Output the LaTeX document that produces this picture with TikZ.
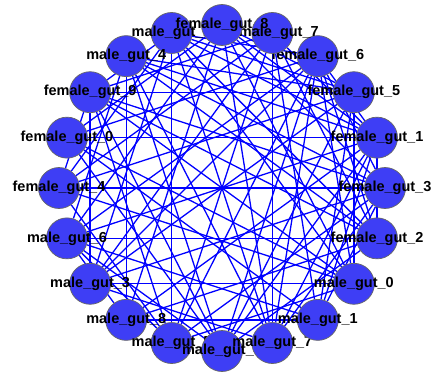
\documentclass[tikz,border=0pt]{standalone}
\usepackage{fontspec}
\setmainfont{Liberation Sans}
\usetikzlibrary{backgrounds}
\definecolor{nodeblue}{RGB}{62,62,245}
\begin{document}
\begin{tikzpicture}[x=1pt,y=1pt,
    gnode/.style={circle,fill=nodeblue,draw=gray!80!black,line width=0.7pt,minimum size=41pt,inner sep=0pt},
    glabel/.style={font=\fontsize{14.5}{16}\selectfont\bfseries,text=black,inner sep=0pt},
    gedge/.style={draw=blue,line width=1.3pt}]
    \useasboundingbox (-222,-187) rectangle (209,188);
    \foreach \k/\lab in {
        6/male\_gut\_2, 7/male\_gut\_4, 8/female\_gut\_9, 9/female\_gut\_0,
        10/female\_gut\_4, 11/male\_gut\_6, 12/male\_gut\_3, 13/male\_gut\_8,
        14/male\_gut\_5, 15/male\_gut\_9, 16/male\_gut\_7, 17/male\_gut\_1,
        18/male\_gut\_0, 19/female\_gut\_2, 0/female\_gut\_3, 1/female\_gut\_1,
        2/female\_gut\_5, 3/female\_gut\_6, 4/female\_gut\_7, 5/female\_gut\_8} {
        \node[gnode] (n\k) at (18*\k:163) {};
        \node[glabel] (l\k) at (n\k) {\lab};
    }
    \begin{pgfonlayer}{background}
    \foreach \a/\b in {
        0/10,0/5,0/7,0/12,0/14,0/16,0/3,0/17,0/8,
        1/9,1/11,1/5,1/7,1/13,1/15,1/17,1/3,
        2/8,2/6,2/10,2/12,2/15,2/18,2/5,
        3/6,3/9,3/11,3/14,3/16,3/19,3/12,
        4/16,4/14,4/8,4/10,4/12,4/19,4/1,
        5/16,5/9,5/11,5/13,5/18,
        6/16,6/10,6/12,6/14,6/19,6/1,
        7/11,7/13,7/15,7/16,7/19,7/2,
        8/12,8/18,8/15,8/10,8/6,
        9/15,9/17,9/18,
        10/14,10/18,
        11/19,11/15,11/17,11/13,
        12/18,12/16,
        13/17,13/19,
        14/18,14/8,14/11,
        15/19,15/3,
        16/1,
        17/2,17/4,
        18/3,18/6,
        19/1,19/8} {
        \draw[gedge] (n\a) -- (n\b);
    }
    \end{pgfonlayer}
\end{tikzpicture}
\end{document}
